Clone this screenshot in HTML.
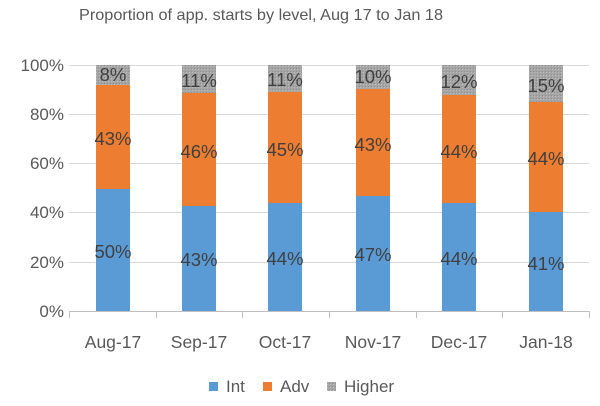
<!DOCTYPE html>
<html><head><meta charset="utf-8"><style>
html,body{margin:0;padding:0;background:#fff;}
svg{display:block;font-family:"Liberation Sans",Arial,sans-serif;}
</style></head><body>
<svg width="600" height="406" viewBox="0 0 600 406" xmlns="http://www.w3.org/2000/svg">
<defs>
<pattern id="hp" width="3" height="3" patternUnits="userSpaceOnUse">
<rect width="3" height="3" fill="#a5a5a5"/><rect width="1" height="1" fill="#bdbdbd"/><rect x="2" y="2" width="1" height="1" fill="#8f8f8f"/>
</pattern>
</defs>
<rect width="600" height="406" fill="#fff"/>
<text x="261" y="20" font-size="16" fill="#595959" text-anchor="middle" textLength="364" lengthAdjust="spacingAndGlyphs">Proportion  of app. starts by level, Aug 17 to Jan 18</text>
<g stroke="#d9d9d9" stroke-width="1">
<line x1="69" x2="589" y1="65.5" y2="65.5"/>
<line x1="69" x2="589" y1="114.5" y2="114.5"/>
<line x1="69" x2="589" y1="163.5" y2="163.5"/>
<line x1="69" x2="589" y1="212.5" y2="212.5"/>
<line x1="69" x2="589" y1="262.5" y2="262.5"/>
</g>
<g stroke="#bfbfbf" stroke-width="1">
<line x1="69" x2="589" y1="311.5" y2="311.5"/>
<line x1="69.5" x2="69.5" y1="311" y2="318"/>
<line x1="156.5" x2="156.5" y1="311" y2="318"/>
<line x1="242.5" x2="242.5" y1="311" y2="318"/>
<line x1="329.5" x2="329.5" y1="311" y2="318"/>
<line x1="416.5" x2="416.5" y1="311" y2="318"/>
<line x1="502.5" x2="502.5" y1="311" y2="318"/>
<line x1="589.5" x2="589.5" y1="311" y2="318"/>
</g>
<g font-size="17" fill="#595959" text-anchor="end">
<text x="64" y="71">100%</text>
<text x="64" y="120">80%</text>
<text x="64" y="169">60%</text>
<text x="64" y="218">40%</text>
<text x="64" y="268">20%</text>
<text x="64" y="317">0%</text>
</g>
<g>
<rect x="96" y="65" width="34" height="20" fill="url(#hp)"/><rect x="96" y="85" width="34" height="104" fill="#ed7d31"/><rect x="96" y="189" width="34" height="122" fill="#5b9bd5"/>
<rect x="182" y="65" width="34" height="28" fill="url(#hp)"/><rect x="182" y="93" width="34" height="113" fill="#ed7d31"/><rect x="182" y="206" width="34" height="105" fill="#5b9bd5"/>
<rect x="268" y="65" width="34" height="27" fill="url(#hp)"/><rect x="268" y="92" width="34" height="111" fill="#ed7d31"/><rect x="268" y="203" width="34" height="108" fill="#5b9bd5"/>
<rect x="356" y="65" width="34" height="24" fill="url(#hp)"/><rect x="356" y="89" width="34" height="107" fill="#ed7d31"/><rect x="356" y="196" width="34" height="115" fill="#5b9bd5"/>
<rect x="442" y="65" width="34" height="30" fill="url(#hp)"/><rect x="442" y="95" width="34" height="108" fill="#ed7d31"/><rect x="442" y="203" width="34" height="108" fill="#5b9bd5"/>
<rect x="529" y="65" width="34" height="37" fill="url(#hp)"/><rect x="529" y="102" width="34" height="110" fill="#ed7d31"/><rect x="529" y="212" width="34" height="99" fill="#5b9bd5"/>
</g>
<g font-size="18.5" fill="#404040" text-anchor="middle">
<text x="113" y="81">8%</text><text x="113" y="145">43%</text><text x="113" y="258">50%</text>
<text x="199" y="87">11%</text><text x="199" y="158">46%</text><text x="199" y="266">43%</text>
<text x="285" y="86">11%</text><text x="285" y="156">45%</text><text x="285" y="265">44%</text>
<text x="373" y="83">10%</text><text x="373" y="151">43%</text><text x="373" y="261">47%</text>
<text x="459" y="88">12%</text><text x="459" y="158">44%</text><text x="459" y="265">44%</text>
<text x="546" y="92">15%</text><text x="546" y="165">44%</text><text x="546" y="270">41%</text>
</g>
<g font-size="17.5" fill="#595959" text-anchor="middle">
<text x="113" y="348">Aug-17</text>
<text x="199" y="348">Sep-17</text>
<text x="285" y="348">Oct-17</text>
<text x="373" y="348">Nov-17</text>
<text x="459" y="348">Dec-17</text>
<text x="546" y="348">Jan-18</text>
</g>
<g font-size="17" fill="#595959">
<rect x="209" y="382" width="9" height="9" fill="#5b9bd5"/><text x="226" y="392">Int</text>
<rect x="263" y="382" width="9" height="9" fill="#ed7d31"/><text x="280" y="392">Adv</text>
<rect x="327" y="382" width="9" height="9" fill="url(#hp)"/><text x="344" y="392">Higher</text>
</g>
</svg>
</body></html>
